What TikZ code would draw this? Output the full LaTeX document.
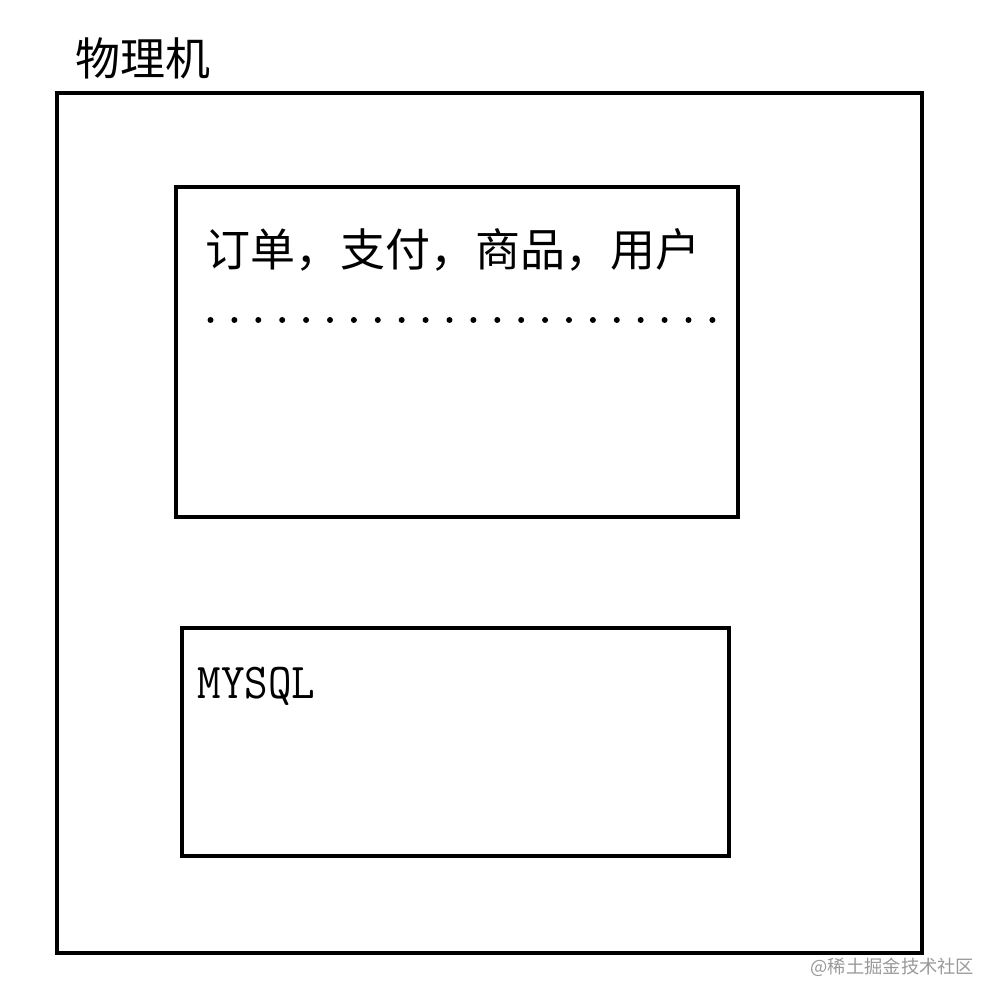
\documentclass[tikz,border=0pt]{standalone}
\usepackage{fontspec}
\newfontfamily\cjk{Noto Sans CJK SC}
\tikzset{
  box/.style={draw,line width=1pt},
  label/.style={anchor=west,inner sep=0pt,font=\cjk\fontsize{12.8pt}{14pt}\selectfont},
}
\begin{document}
\begin{tikzpicture}
            \useasboundingbox (0,0) rectangle (9.98,10.04);
            \draw[box] (0.57,0.51) rectangle (9.22,9.11);
            \draw[box] (1.76,4.87) rectangle (7.38,8.17);
            \draw[box] (1.82,1.48) rectangle (7.29,3.76);
            \node[label] (host) at (0.75,9.46) {物理机};
            \node[label] (biz) at (2.05,7.54) {订单，支付，商品，用户};
            \foreach \i in {0,...,21}
                \fill (2.105+0.239*\i,6.84) circle (0.03);
            \node[anchor=west,inner sep=0pt,font=\ttfamily\fontsize{13pt}{15pt}\selectfont,yscale=1.1] (db) at (1.97,3.18) {MYSQL};
            \node[anchor=west,inner sep=0pt,text=black!40,font=\cjk\fontsize{5.2pt}{6pt}\selectfont] (mark) at (8.1,0.37) {@稀土掘金技术社区};
        \end{tikzpicture}
\end{document}
